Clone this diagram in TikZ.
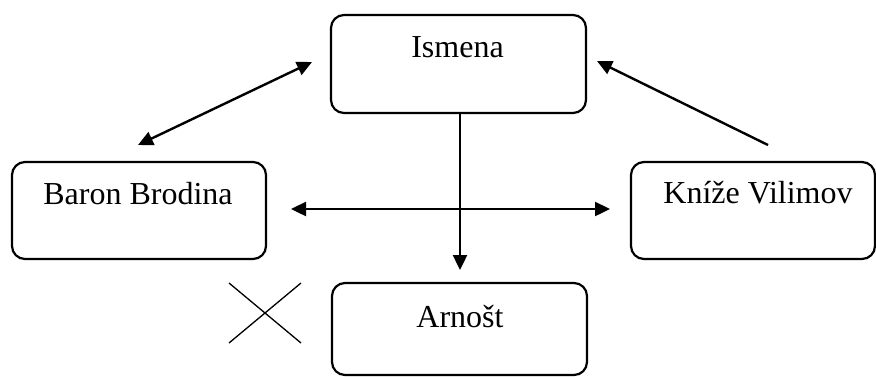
\documentclass[tikz,border=0pt]{standalone}
\usepackage{fontspec}
\setmainfont{Liberation Serif}
\usetikzlibrary{arrows.meta}
\begin{document}
\begin{tikzpicture}[x=1pt,y=-1pt,
  box/.style={draw,line width=2.2pt,rounded corners=13pt,inner sep=0pt},
  lbl/.style={anchor=base,inner sep=0pt,font=\fontsize{32}{38}\selectfont},
  arr/.style={line width=2.4pt,-{Triangle[length=15pt,width=14pt]}},
  darr/.style={line width=2.4pt,{Triangle[length=15pt,width=14pt]}-{Triangle[length=15pt,width=14pt]}}]
\useasboundingbox (0,0) rectangle (876,376);
% boxes
\node[box,minimum width=255pt,minimum height=98pt] (ism) at (458.5,64) {};
\node[box,minimum width=254pt,minimum height=97pt] (bar) at (139,210.5) {};
\node[box,minimum width=244pt,minimum height=97pt] (kni) at (753,210.5) {};
\node[box,minimum width=255pt,minimum height=92pt] (arn) at (459.5,329) {};
% labels
\node[lbl] (tism) at (457.5,57) {Ismena};
\node[lbl] (tbar) at (138,204) {Baron Brodina};
\node[lbl] (tkni) at (758,203) {Kníže Vilimov};
\node[lbl] (tarn) at (460,327) {Arnošt};
% connector end points
\coordinate (bi1) at (138,145);
\coordinate (bi2) at (312,62);
\coordinate (ki1) at (768,145);
\coordinate (ki2) at (597,61);
\coordinate (h1) at (291,209);
\coordinate (h2) at (610,209);
\coordinate (v1) at (460,113);
\coordinate (v2) at (460,270);
% connectors
\draw[darr] (bi1) -- (bi2);
\draw[arr] (ki1) -- (ki2);
\draw[darr] (h1) -- (h2);
\draw[arr] (v1) -- (v2);
% cross
\coordinate (x1) at (229,283);
\coordinate (x2) at (301,343);
\coordinate (x3) at (229,343);
\coordinate (x4) at (301,283);
\draw[line width=1.3pt] (x1) -- (x2);
\draw[line width=1.3pt] (x3) -- (x4);
\end{tikzpicture}
\end{document}
